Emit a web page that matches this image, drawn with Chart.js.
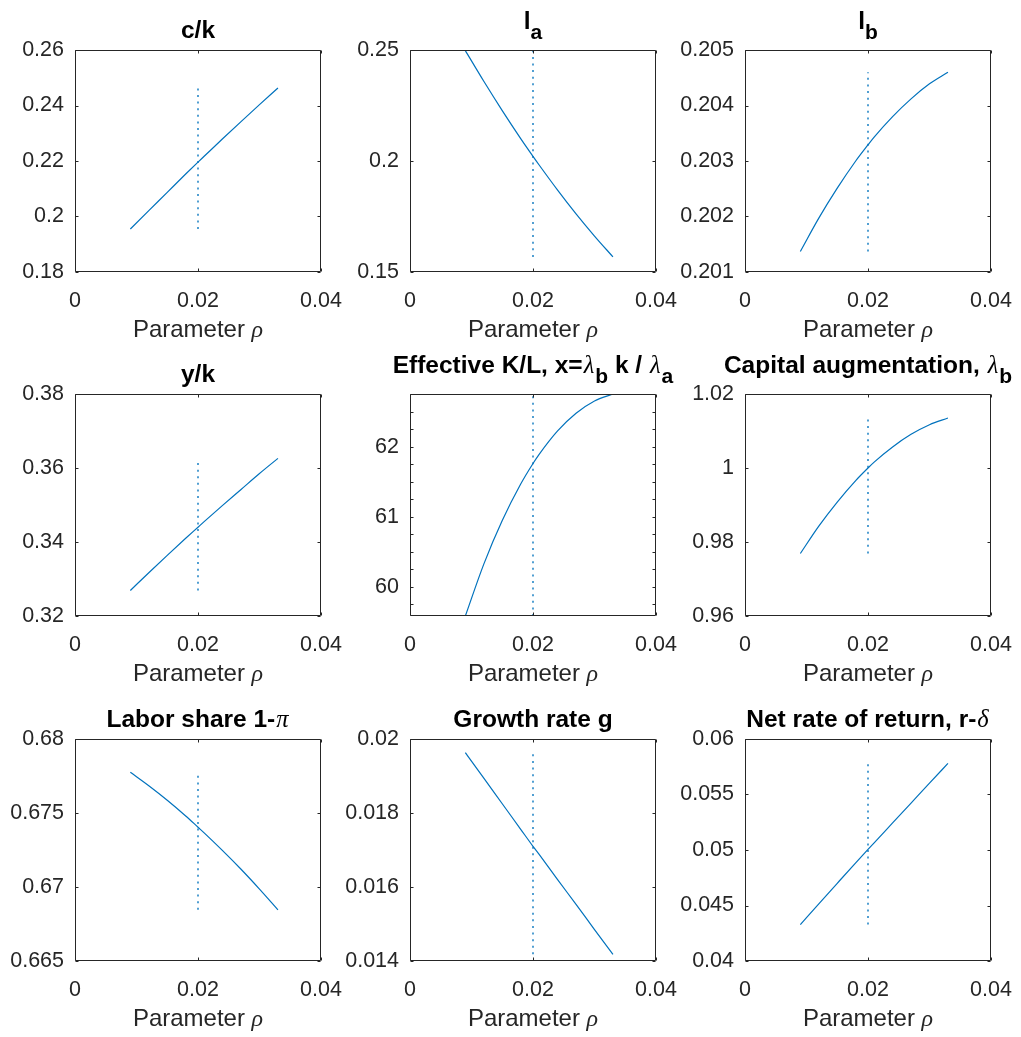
<!DOCTYPE html>
<html>
<head>
<meta charset="utf-8">
<script src="https://cdn.jsdelivr.net/npm/chart.js@4.4.1/dist/chart.umd.min.js"></script>
<style>
  html, body { margin: 0; padding: 0; background: #fff; }
  body { width: 1021px; height: 1037px; overflow: hidden; position: relative;
         font-family: "Liberation Sans", Arial, sans-serif; }
  canvas { position: absolute; }
  .ttl { position: absolute; font-weight: bold; font-size: 24.5px; line-height: 24px;
         color: #000; white-space: nowrap; transform: translateX(-50%); }
  .xl { position: absolute; font-size: 24px; line-height: 24px; color: #262626;
        white-space: nowrap; transform: translateX(-50%); }
  .g { font-family: "Liberation Serif", "DejaVu Serif", serif; font-style: italic; font-weight: normal; }
  .ttl .g { margin: 0 1px; }
  .ttl sub { font-size: 21px; vertical-align: baseline; position: relative; top: 10px; }
</style>
</head>
<body>
<script>
// ---- data ----
const rho = [0.009, 0.012, 0.015, 0.018, 0.020, 0.021, 0.024, 0.027, 0.030, 0.033];
const rhoMark = 0.02;

const ck       = [0.1955, 0.2021, 0.2087, 0.2153, 0.2196, 0.2217, 0.2280, 0.2342, 0.2403, 0.2463];
const la       = [0.2497, 0.2359, 0.2227, 0.2101, 0.2021, 0.1982, 0.1869, 0.1762, 0.1662, 0.1568];
const lb       = [0.20137, 0.20197, 0.20251, 0.20300, 0.20329, 0.20343, 0.20380, 0.20412, 0.20439, 0.20460];
const yk       = [0.3269, 0.3317, 0.3364, 0.3410, 0.3440, 0.3455, 0.3499, 0.3542, 0.3585, 0.3626];
const effKL    = [59.585, 60.325, 60.946, 61.466, 61.759, 61.890, 62.224, 62.476, 62.651, 62.75];
const lambdaB  = [0.9769, 0.9843, 0.9908, 0.9966, 1.0000, 1.0016, 1.0057, 1.0091, 1.0117, 1.0135];
const labor    = [0.67775, 0.67684, 0.67586, 0.67480, 0.67404, 0.67366, 0.67246, 0.67120, 0.66986, 0.66846];
const growth   = [0.01963, 0.01894, 0.01825, 0.01756, 0.01710, 0.01688, 0.01620, 0.01553, 0.01485, 0.01418];
const netRet   = [0.04328, 0.04515, 0.04700, 0.04884, 0.05005, 0.05065, 0.05244, 0.05423, 0.05602, 0.05780];

const series = [ck, la, lb, yk, effKL, lambdaB, labor, growth, netRet];

const titles = [
  'c/k',
  'l<sub>a</sub>',
  'l<sub>b</sub>',
  'y/k',
  'Effective K/L, x=<span class="g">λ</span><sub>b</sub> k / <span class="g">λ</span><sub>a</sub>',
  'Capital augmentation, <span class="g">λ</span><sub>b</sub>',
  'Labor share 1-<span class="g">π</span>',
  'Growth rate g',
  'Net rate of return, r-<span class="g">δ</span>'
];
const xLabel = 'Parameter <span class="g">ρ</span>';

// axis limits / tick steps
const yMin   = [0.18, 0.15, 0.201, 0.32, 59.585, 0.96, 0.665, 0.014, 0.04];
const yMax   = [0.26, 0.25, 0.205, 0.38, 62.75, 1.02, 0.68, 0.02, 0.06];
const yStep  = [0.02, 0.05, 0.001, 0.02, 0.25, 0.02, 0.005, 0.002, 0.005];
const yLabelStep = [0.02, 0.05, 0.001, 0.02, 1, 0.02, 0.005, 0.002, 0.005];
const xMin = 0, xMax = 0.04, xStep = 0.02;

// ---- layout ----
const colLeft = [75, 410, 745];
const rowTop = [50, 394, 739];
const plotW = 246, plotH = 222;
const padL = 75, padT = 14, padR = 30, padB = 55;

const blue = '#0072BD';
const axisCol = '#262626';
const tickFont = { family: '"Liberation Sans", Arial, sans-serif', size: 21.5 };

const fmt = (v) => String(+v.toFixed(6));

// box + inward tick marks, MATLAB style
const boxTicks = {
  id: 'boxTicks',
  afterDraw(chart) {
    const { ctx, chartArea: a, scales } = chart;
    const L = a.left + 0.5, R = a.right - 0.5, T = a.top + 0.5, B = a.bottom - 0.5;
    ctx.save();
    ctx.strokeStyle = axisCol;
    ctx.lineWidth = 1;
    ctx.beginPath();
    ctx.rect(L, T, R - L, B - T);
    scales.x.ticks.forEach(t => {
      const p = Math.round(scales.x.getPixelForValue(t.value)) + 0.5;
      ctx.moveTo(p, B); ctx.lineTo(p, B - 3);
      ctx.moveTo(p, T); ctx.lineTo(p, T + 3);
    });
    scales.y.ticks.forEach(t => {
      const p = Math.round(scales.y.getPixelForValue(t.value)) + 0.5;
      ctx.moveTo(L, p); ctx.lineTo(L + 3, p);
      ctx.moveTo(R, p); ctx.lineTo(R - 3, p);
    });
    ctx.stroke();
    ctx.restore();
  }
};

series.forEach((vals, i) => {
  const col = i % 3, row = Math.floor(i / 3);
  const L = colLeft[col], T = rowTop[row];

  const cv = document.createElement('canvas');
  cv.width = padL + plotW + padR;
  cv.height = padT + plotH + padB;
  cv.style.left = (L - padL) + 'px';
  cv.style.top = (T - padT) + 'px';
  document.body.appendChild(cv);

  const lo = Math.min(...vals), hi = Math.max(...vals);
  const lblStep = yLabelStep[i];

  new Chart(cv, {
    type: 'line',
    data: {
      datasets: [
        {
          data: rho.map((x, k) => ({ x, y: vals[k] })),
          borderColor: blue,
          borderWidth: 1.2,
          pointRadius: 0,
          cubicInterpolationMode: 'monotone'
        },
        {
          data: [{ x: rhoMark, y: lo }, { x: rhoMark, y: hi }],
          borderColor: 'rgba(0,114,189,0.85)',
          borderWidth: 1.6,
          borderDash: [2, 4.6],
          pointRadius: 0
        }
      ]
    },
    options: {
      responsive: false,
      animation: false,
      devicePixelRatio: 1,
      layout: { padding: { left: 0, top: padT, right: padR, bottom: 0 } },
      plugins: { legend: { display: false }, tooltip: { enabled: false } },
      scales: {
        x: {
          type: 'linear', min: xMin, max: xMax,
          grid: { display: false, drawTicks: false }, border: { display: false },
          ticks: { stepSize: xStep, color: axisCol, font: tickFont, padding: 16,
                   maxRotation: 0, autoSkip: false, callback: fmt },
          afterFit: (s) => { s.height = padB; s.paddingLeft = 0; s.paddingRight = 0; }
        },
        y: {
          type: 'linear', min: yMin[i], max: yMax[i],
          grid: { display: false, drawTicks: false }, border: { display: false },
          ticks: {
            stepSize: yStep[i], includeBounds: false, autoSkip: false,
            color: axisCol, font: tickFont, padding: 11,
            callback: (v) => {
              const r = v / lblStep;
              return Math.abs(r - Math.round(r)) < 1e-6 ? fmt(v) : '';
            }
          },
          afterFit: (s) => { s.width = padL; s.paddingTop = 0; s.paddingBottom = 0; }
        }
      }
    },
    plugins: [boxTicks]
  });

  // title
  const hasSub = titles[i].includes('<sub>');
  const t = document.createElement('div');
  t.className = 'ttl';
  t.innerHTML = titles[i];
  t.style.left = (L + plotW / 2) + 'px';
  t.style.top = (T - (hasSub ? 21 : 12) - 20.3) + 'px';
  document.body.appendChild(t);

  // x label
  const xl = document.createElement('div');
  xl.className = 'xl';
  xl.innerHTML = xLabel;
  xl.style.left = (L + plotW / 2) + 'px';
  xl.style.top = (T + plotH + 65.5 - 20.3) + 'px';
  document.body.appendChild(xl);
});
</script>
</body>
</html>
